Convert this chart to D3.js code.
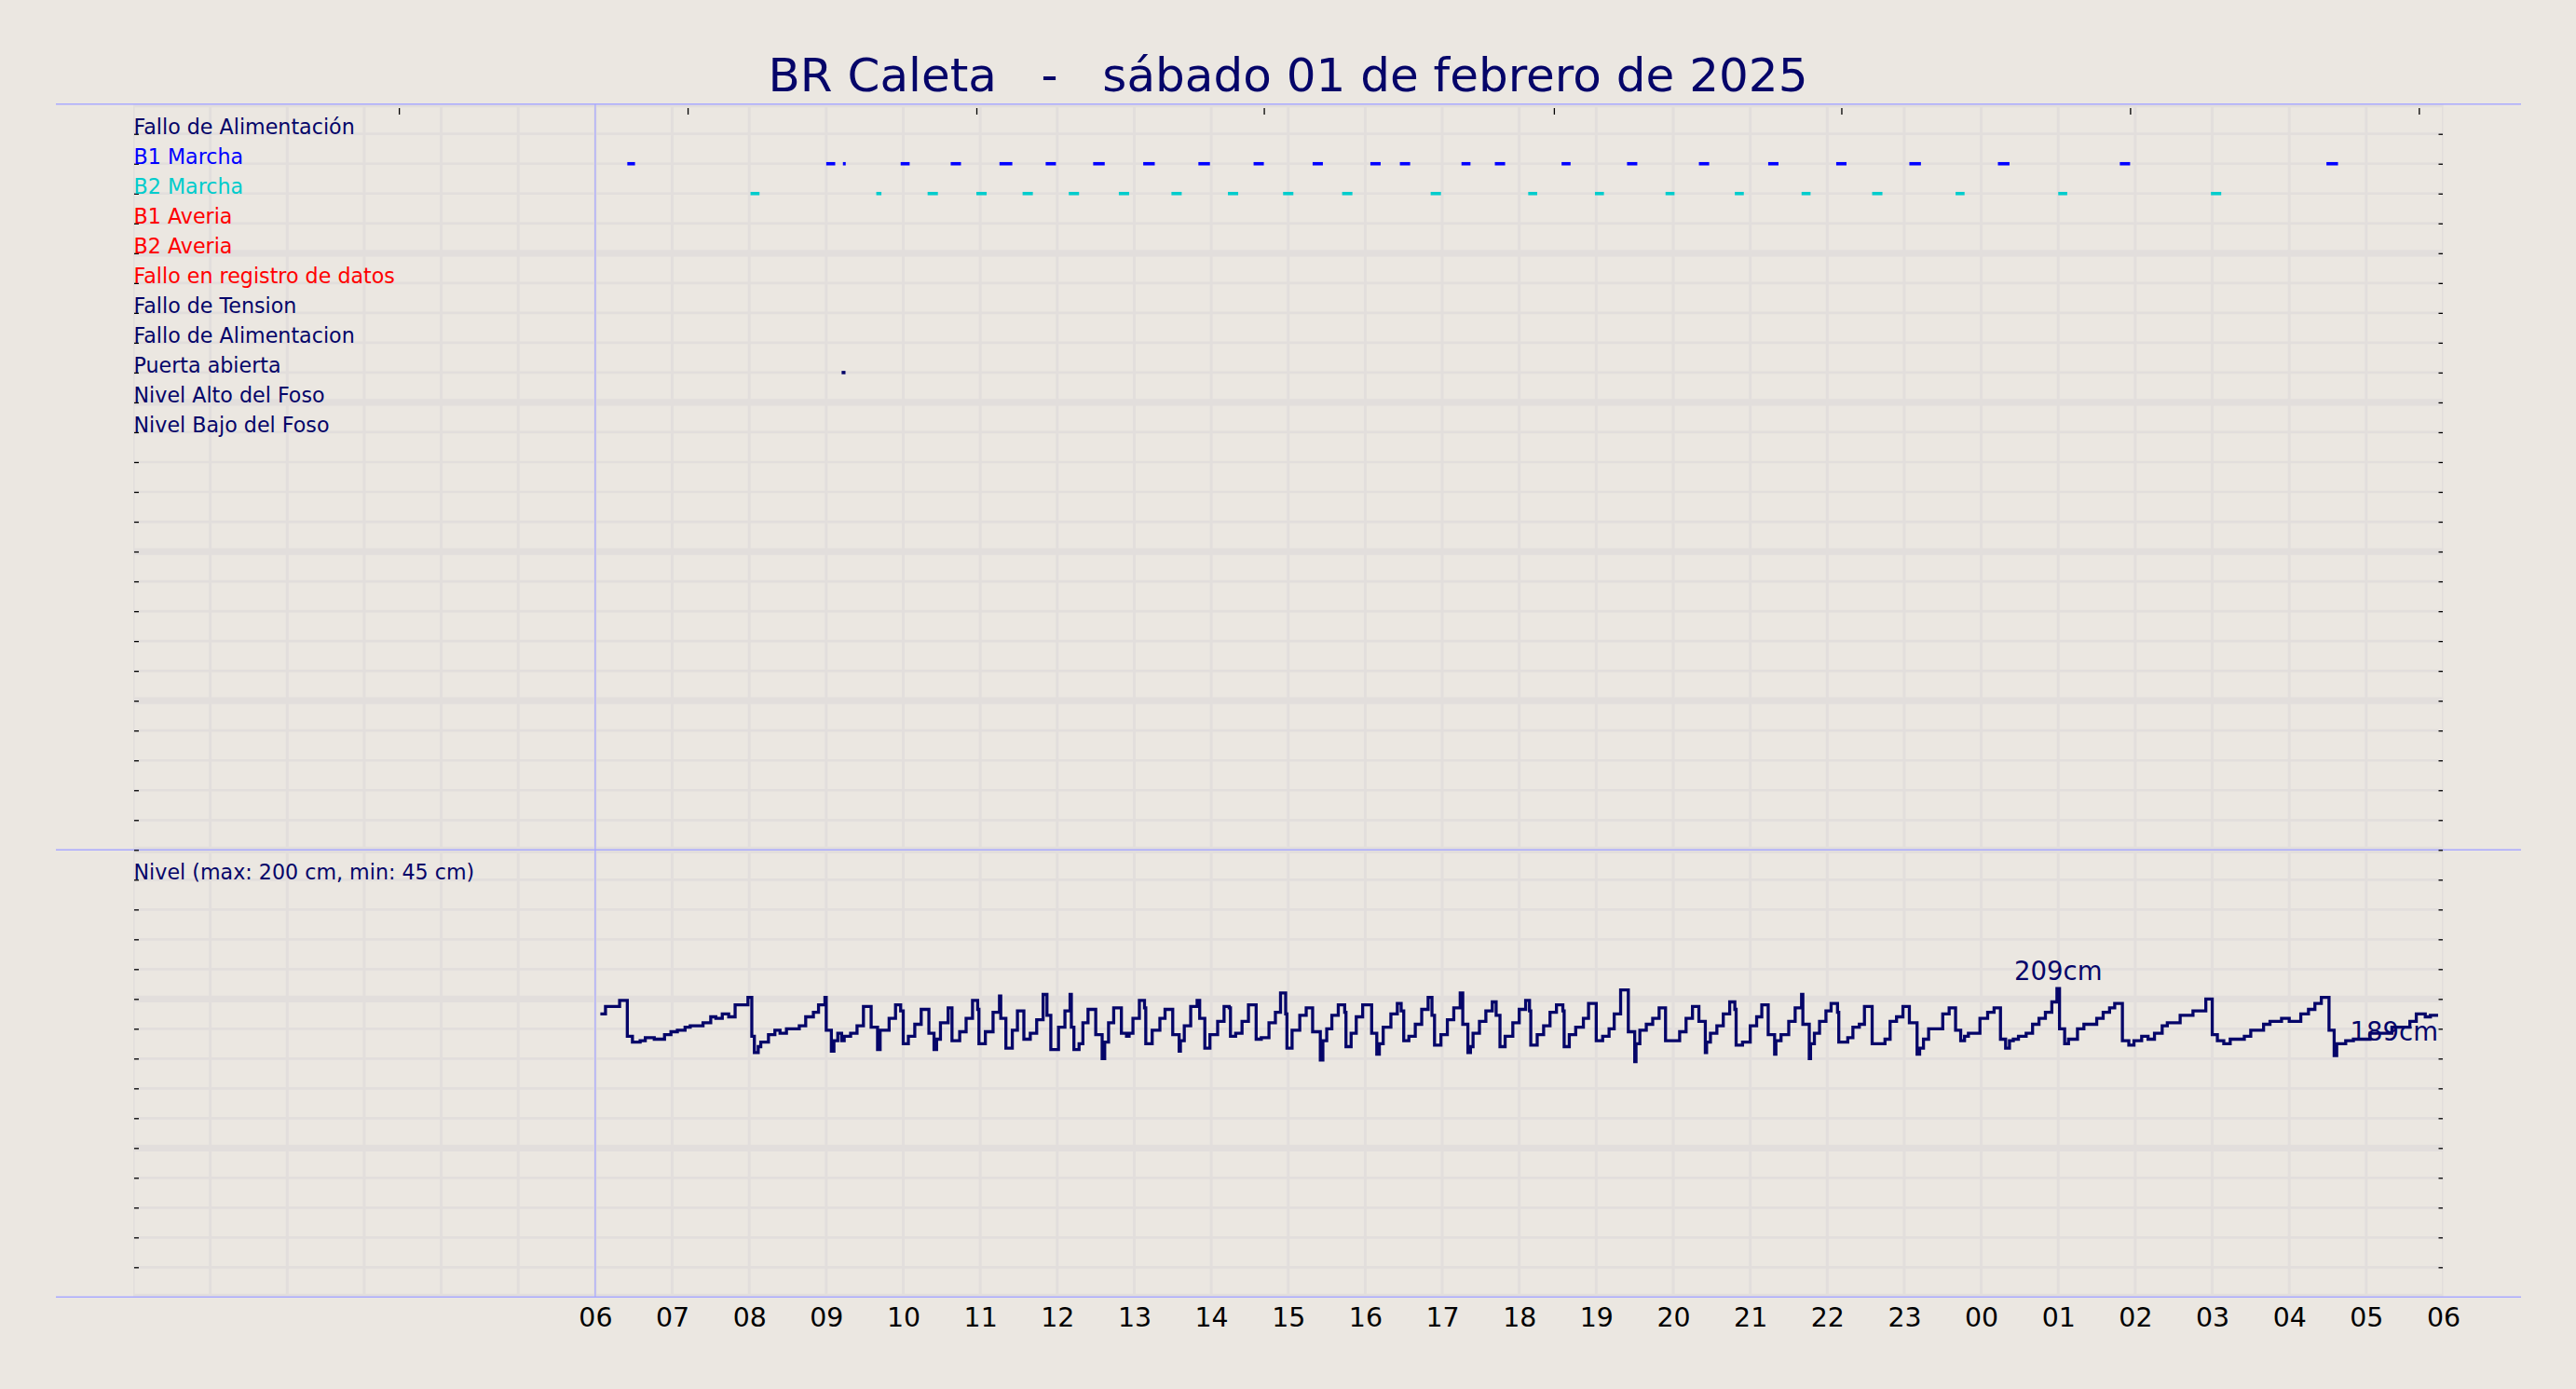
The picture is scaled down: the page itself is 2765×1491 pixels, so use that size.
<!DOCTYPE html>
<html>
<head>
<meta charset="utf-8">
<script src="https://cdn.jsdelivr.net/npm/d3@7"></script>
<style>
  body { margin: 0; background: #ebe7e1; }
  svg { display: block; font-family: "DejaVu Sans", sans-serif; }
</style>
</head>
<body>
<svg id="chart" width="2765" height="1491"></svg>
<script>
// ---- data ----
var titleText = "BR Caleta   -   sábado 01 de febrero de 2025";
var levelLabel = "Nivel (max: 200 cm, min: 45 cm)";

var rowLabels = ["Fallo de Alimentación", "B1 Marcha", "B2 Marcha", "B1 Averia", "B2 Averia",
  "Fallo en registro de datos", "Fallo de Tension", "Fallo de Alimentacion", "Puerta abierta",
  "Nivel Alto del Foso", "Nivel Bajo del Foso"];
var rowColors = ["#050569", "#0000ff", "#00cccc", "#ff0000", "#ff0000",
  "#ff0000", "#050569", "#050569", "#050569", "#050569", "#050569"];

// pump / door events (start - end), times after midnight are the next day
var b1Start = ["06:25", "09:00", "09:13", "09:58", "10:37", "11:15", "11:51", "12:28", "13:07", "13:50",
  "14:33", "15:19", "16:04", "16:27", "17:15", "17:41", "18:33", "19:24", "20:20", "21:14",
  "22:07", "23:04", "00:13", "01:48", "04:29"];
var b1End = ["06:31", "09:07", "09:15", "10:05", "10:45", "11:25", "11:59", "12:37", "13:16", "13:59",
  "14:41", "15:27", "16:12", "16:35", "17:22", "17:49", "18:40", "19:32", "20:28", "21:22",
  "22:15", "23:13", "00:22", "01:56", "04:38"];
var b2Start = ["08:01", "09:39", "10:19", "10:57", "11:33", "12:09", "12:48", "13:29", "14:13", "14:56",
  "15:42", "16:51", "18:07", "18:59", "19:54", "20:48", "21:40", "22:35", "23:40", "01:00", "02:59"];
var b2End = ["08:08", "09:43", "10:27", "11:05", "11:41", "12:17", "12:56", "13:37", "14:21", "15:04",
  "15:50", "16:59", "18:14", "19:06", "20:01", "20:55", "21:47", "22:43", "23:47", "01:07", "03:07"];
var doorStart = ["09:12"];
var doorEnd = ["09:15"];

// pit level (cm)
var levelTimes = [
  "06:04","06:08","06:19","06:25","06:29","06:35","06:39","06:46","06:54","06:59",
  "07:04","07:10","07:14","07:24","07:30","07:34","07:39","07:44","07:49","07:59",
  "08:02","08:04","08:07","08:09","08:15","08:20","08:24","08:29","08:39","08:44",
  "08:50","08:54","08:59","09:00","09:04","09:06","09:09","09:12","09:14","09:19",
  "09:24","09:29","09:35","09:40","09:42","09:49","09:54","09:58","10:00","10:04",
  "10:09","10:14","10:20","10:24","10:26","10:29","10:35","10:38","10:44","10:49",
  "10:54","10:58","10:59","11:04","11:10","11:15","11:16","11:20","11:25","11:29",
  "11:34","11:39","11:44","11:49","11:52","11:55","12:01","12:06","12:10","12:11",
  "12:13","12:17","12:20","12:24","12:30","12:35","12:37","12:40","12:44","12:50",
  "12:54","12:56","12:59","13:04","13:08","13:09","13:14","13:20","13:24","13:30",
  "13:35","13:36","13:39","13:44","13:49","13:51","13:55","13:59","14:05","14:10",
  "14:14","14:15","14:19","14:24","14:29","14:35","14:39","14:45","14:50","14:54",
  "14:58","14:59","15:03","15:09","15:14","15:19","15:25","15:27","15:30","15:34",
  "15:39","15:44","15:45","15:49","15:53","15:58","16:05","16:09","16:11","16:14",
  "16:20","16:25","16:28","16:30","16:34","16:39","16:44","16:49","16:52","16:54",
  "16:59","17:04","17:09","17:14","17:16","17:20","17:22","17:24","17:29","17:34",
  "17:39","17:42","17:45","17:49","17:55","18:00","18:05","18:08","18:09","18:14",
  "18:19","18:24","18:29","18:34","18:35","18:39","18:44","18:50","18:54","19:00",
  "19:05","19:10","19:14","19:19","19:25","19:30","19:31","19:34","19:39","19:44",
  "19:49","19:54","20:05","20:10","20:15","20:20","20:25","20:26","20:29","20:34",
  "20:39","20:44","20:48","20:49","20:54","21:00","21:05","21:09","21:14","21:19",
  "21:20","21:24","21:30","21:35","21:40","21:41","21:46","21:47","21:50","21:54",
  "21:59","22:03","22:08","22:09","22:16","22:20","22:25","22:29","22:35","22:45",
  "22:49","22:54","22:59","23:04","23:10","23:12","23:15","23:19","23:30","23:35",
  "23:40","23:44","23:47","23:50","23:59","00:05","00:10","00:15","00:19","00:22",
  "00:25","00:29","00:35","00:40","00:45","00:50","00:55","00:59","01:01","01:05",
  "01:08","01:15","01:20","01:30","01:35","01:40","01:44","01:50","01:55","01:59",
  "02:05","02:10","02:15","02:21","02:25","02:35","02:45","02:55","03:00","03:04",
  "03:09","03:14","03:25","03:30","03:40","03:45","03:54","04:00","04:09","04:15",
  "04:20","04:25","04:31","04:35","04:37","04:44","04:50","05:03","05:20","05:34",
  "05:39","05:46","05:50","05:56"];
var levelValues = [
  190,195,199,175,171,172,174,173,176,178,
  179,181,182,184,188,187,190,188,196,201,
  175,164,168,171,176,179,177,180,182,188,
  191,196,201,179,165,172,177,172,175,177,
  182,195,181,166,179,187,196,192,170,175,
  183,193,177,166,173,184,194,172,178,187,
  199,193,170,178,191,202,187,167,179,192,
  173,177,186,203,189,166,181,192,203,181,
  166,170,184,193,176,160,171,184,194,177,
  175,177,187,199,194,170,179,187,193,176,
  165,172,182,195,199,187,167,176,185,195,
  194,175,177,185,196,173,174,184,191,204,
  190,167,179,189,194,178,159,172,180,189,
  196,191,168,177,188,196,177,163,170,181,
  190,197,192,172,175,183,193,201,189,169,
  176,186,194,204,183,164,168,177,185,192,
  198,189,168,175,184,193,199,192,169,176,
  182,191,196,192,168,176,181,187,197,172,
  175,180,190,206,178,158,170,179,183,187,
  194,172,178,187,195,185,164,171,177,182,
  190,198,193,169,171,182,188,196,176,163,
  172,176,185,194,203,183,160,170,177,185,
  192,197,191,171,174,181,183,195,170,173,
  185,188,195,184,163,167,173,180,190,194,
  179,172,175,177,187,191,194,173,167,172,
  173,175,177,183,187,191,198,207,180,170,
  173,180,183,187,191,194,197,172,169,172,
  175,173,177,182,184,189,192,200,176,172,
  170,173,175,179,183,185,187,185,190,193,
  197,201,179,162,170,172,173,177,181,185,
  190,188,189,189];

var levelNotes = ["209cm", "189cm"];

// small ticks along the top edge
var topTickTimes = ["2025-02-01 03:27", "2025-02-01 07:12", "2025-02-01 10:57", "2025-02-01 14:41",
  "2025-02-01 18:27", "2025-02-01 22:11", "2025-02-02 01:56", "2025-02-02 05:41"];

// ---- layout ----
var W = 2765, H = 1491;
var bg = "#ebe7e1", gridColor = "#e2dedc", sepColor = "#aaaaff", navy = "#050569";
var plot = { left: 143, right: 2622.5, top: 111.7, mid: 912.3, bottom: 1392.3 };
var labelSize = 22.2;

var svg = d3.select("#chart");
svg.append("rect").attr("width", W).attr("height", H).attr("fill", bg);

var parseFull = d3.timeParse("%Y-%m-%d %H:%M");
function at(hm) {
  // hours before 06 belong to the following day
  return parseFull((+hm.slice(0, 2) < 6 ? "2025-02-02 " : "2025-02-01 ") + hm);
}

var day0 = parseFull("2025-02-01 00:00"),
  dayEnd = parseFull("2025-02-02 06:00"),
  dataStart = parseFull("2025-02-01 06:00");

var x = d3.scaleTime().domain([day0, dayEnd]).range([plot.left, plot.right]);
var yRows = d3.scaleLinear().domain([0, 25]).range([plot.top, plot.mid]);
var yLevel = d3.scaleLinear().domain([0, 300]).range([plot.bottom, plot.mid]);

var defs = svg.append("defs");
defs.append("clipPath").attr("id", "clipTop").append("rect")
  .attr("x", plot.left).attr("y", plot.top)
  .attr("width", plot.right - plot.left).attr("height", plot.mid - plot.top);
defs.append("clipPath").attr("id", "clipBot").append("rect")
  .attr("x", plot.left).attr("y", plot.mid)
  .attr("width", plot.right - plot.left).attr("height", plot.bottom - plot.mid);

var hours = d3.timeHour.range(day0, d3.timeHour.offset(dayEnd, 1));

// grid, upper panel
var gTop = svg.append("g").attr("clip-path", "url(#clipTop)");
gTop.selectAll(".vg").data(hours).enter().append("line")
  .attr("x1", d => x(d)).attr("x2", d => x(d))
  .attr("y1", plot.top).attr("y2", plot.mid)
  .attr("stroke", gridColor).attr("stroke-width", 3);
gTop.selectAll(".hg").data(d3.range(0, 26)).enter().append("line")
  .attr("x1", plot.left).attr("x2", plot.right)
  .attr("y1", d => yRows(d)).attr("y2", d => yRows(d))
  .attr("stroke", gridColor).attr("stroke-width", d => d % 5 === 0 ? 7.3 : 2.7);

// grid, lower panel
var gBot = svg.append("g").attr("clip-path", "url(#clipBot)");
gBot.selectAll(".vg").data(hours).enter().append("line")
  .attr("x1", d => x(d)).attr("x2", d => x(d))
  .attr("y1", plot.mid).attr("y2", plot.bottom)
  .attr("stroke", gridColor).attr("stroke-width", 3);
gBot.selectAll(".hg").data(d3.range(0, 301, 20)).enter().append("line")
  .attr("x1", plot.left).attr("x2", plot.right)
  .attr("y1", d => yLevel(d)).attr("y2", d => yLevel(d))
  .attr("stroke", gridColor).attr("stroke-width", d => d % 100 === 0 ? 7.3 : 2.7);

// separator lines
svg.selectAll(".sep").data([plot.top, plot.mid, plot.bottom]).enter().append("line")
  .attr("x1", 60).attr("x2", 2706)
  .attr("y1", d => d).attr("y2", d => d)
  .attr("stroke", sepColor).attr("stroke-width", 1.6);
svg.append("line")
  .attr("x1", x(dataStart)).attr("x2", x(dataStart))
  .attr("y1", plot.top).attr("y2", plot.bottom)
  .attr("stroke", sepColor).attr("stroke-width", 1.3);

// inward ticks, left and right
function tickAxes(scale, values) {
  var l = svg.append("g").attr("transform", "translate(" + (plot.left + 1) + ",0)")
    .call(d3.axisLeft(scale).tickValues(values).tickSize(-5).tickFormat(""));
  var r = svg.append("g").attr("transform", "translate(" + (plot.right - 0.5) + ",0)")
    .call(d3.axisRight(scale).tickValues(values).tickSize(-4.5).tickFormat(""));
  [l, r].forEach(g => {
    g.select(".domain").remove();
    g.selectAll("line").attr("stroke", "#000").attr("stroke-width", 1.3);
  });
}
tickAxes(yRows, d3.range(1, 25));
tickAxes(yLevel, d3.range(20, 301, 20));

// top ticks
var topAxis = svg.append("g").attr("transform", "translate(0,116)")
  .call(d3.axisTop(x).tickValues(topTickTimes.map(parseFull)).tickSize(-7).tickFormat(""));
topAxis.select(".domain").remove();
topAxis.selectAll("line").attr("stroke", "#000").attr("stroke-width", 1.3);

// bottom hour labels
var labelHours = d3.timeHour.range(dataStart, d3.timeHour.offset(dayEnd, 1));
var xAxis = svg.append("g").attr("transform", "translate(0," + plot.bottom + ")")
  .call(d3.axisBottom(x).tickValues(labelHours).tickFormat(d3.timeFormat("%H"))
    .tickSize(0).tickPadding(11.5));
xAxis.select(".domain").remove();
xAxis.selectAll("text").attr("font-size", 28.4).attr("fill", "#000")
  .attr("font-family", "DejaVu Sans");

// row labels
svg.selectAll(".rowLabel").data(rowLabels).enter().append("text")
  .attr("x", plot.left + 0.5)
  .attr("y", (d, i) => yRows(i + 1))
  .attr("font-size", labelSize)
  .attr("fill", (d, i) => rowColors[i])
  .text(d => d);

// event bars
function drawEvents(starts, ends, row, color) {
  var ev = starts.map((s, i) => ({ s: at(s), e: at(ends[i]) }));
  svg.append("g").selectAll("rect").data(ev).enter().append("rect")
    .attr("x", d => x(d.s))
    .attr("width", d => Math.max(x(d.e) - x(d.s), 3))
    .attr("y", yRows(row) - 1.8)
    .attr("height", 3.6)
    .attr("fill", color);
}
drawEvents(b1Start, b1End, 2, "#0000ff");
drawEvents(b2Start, b2End, 3, "#00cccc");
drawEvents(doorStart, doorEnd, 9, navy);

// level panel label
svg.append("text")
  .attr("x", plot.left + 0.5).attr("y", yLevel(280))
  .attr("font-size", labelSize).attr("fill", navy)
  .text(levelLabel);

// level line
var level = levelTimes.map((t, i) => ({ t: at(t), v: levelValues[i] }));
svg.append("path")
  .datum(level)
  .attr("fill", "none")
  .attr("stroke", navy)
  .attr("stroke-width", 3.3)
  .attr("stroke-linejoin", "miter")
  .attr("d", d3.line().curve(d3.curveStepAfter).x(d => x(d.t)).y(d => yLevel(d.v)));

// max / last annotations
var iMax = d3.maxIndex(level, d => d.v);
var maxMid = new Date((+level[iMax].t + +level[iMax + 1].t) / 2);
svg.append("text")
  .attr("x", x(maxMid)).attr("y", yLevel(level[iMax].v) - 9)
  .attr("text-anchor", "middle").attr("font-size", 27.5).attr("fill", navy)
  .text(levelNotes[0]);
var last = level[level.length - 1];
svg.append("text")
  .attr("x", x(last.t)).attr("y", yLevel(last.v) + 27)
  .attr("text-anchor", "end").attr("font-size", 27.5).attr("fill", navy)
  .text(levelNotes[1]);

// title
svg.append("text")
  .attr("x", W / 2).attr("y", 98.3)
  .attr("text-anchor", "middle")
  .attr("font-size", 50)
  .attr("fill", navy)
  .style("white-space", "pre")
  .text(titleText);

if (levelTimes.length !== levelValues.length) console.log("level length mismatch");
</script>
</body>
</html>
